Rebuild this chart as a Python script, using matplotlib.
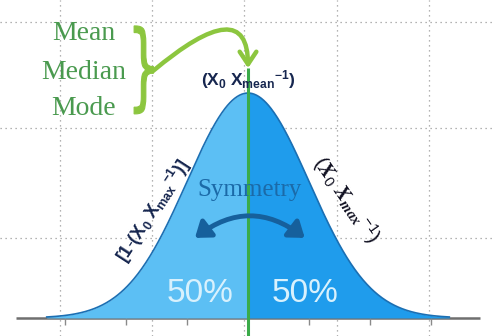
import matplotlib
matplotlib.use("Agg")
import matplotlib.pyplot as plt
import numpy as np
from matplotlib.patches import PathPatch
from matplotlib.textpath import TextPath
from matplotlib.font_manager import FontProperties
from matplotlib.transforms import Affine2D

# normal curve shown in the sketch (in sd units)
dist_mean = 0.0
dist_sd = 1.0
sigma_ticks = [-3, -2, -1, 0, 1, 2, 3]
tail_extent = 3.8

# dotted background grid
grid_x = [-3.08, -1.57, -0.07, 1.46, 2.97]
grid_y = [0.142, 0.337, 0.525]

stat_labels = ["Mean", "Median", "Mode"]
half_labels = ["50%", "50%"]
center_label = r"$\mathbf{(X_0\ X_{mean}{}^{-1})}$"
left_label = r"$\mathbf{[1\text{-}(X_0\ X_{max}{}^{-1})]}$"
right_label = r"$(X_0\ X_{max}{}^{-1})$"

LIGHT = "#5cbff4"
DARK = "#1f9cec"
EDGE = "#1b6fb3"
GREEN_TXT = "#4a9a4f"
LIME = "#8cc63f"
NAVY = "#16264f"

plt.rcParams["mathtext.fontset"] = "custom"
plt.rcParams["mathtext.bf"] = "Liberation Sans:bold"
plt.rcParams["mathtext.rm"] = "Liberation Sans"
plt.rcParams["mathtext.it"] = "Liberation Serif:italic:bold"


def pdf(x):
    z = (x - dist_mean) / dist_sd
    return np.exp(-0.5 * z ** 2) / (dist_sd * np.sqrt(2 * np.pi))


fig = plt.figure(figsize=(4.92, 3.36), dpi=100)
ax = fig.add_axes([0, 0, 1, 1])
ax.set_xlim(-4.066, 4.0)
ax.set_ylim(-0.032, 0.564)
ax.axis("off")

# grid
for gx in grid_x:
    ax.axvline(gx, color="#9a9a9a", lw=0.9, ls=(0, (1, 3)), zorder=0)
for gy in grid_y:
    ax.axhline(gy, color="#9a9a9a", lw=0.9, ls=(0, (1, 3)), zorder=0)

# baseline and ticks
ax.hlines(0, -tail_extent, tail_extent, color="#6f6f6f", lw=1.8, zorder=1)
ax.vlines(sigma_ticks, -0.012, 0, color="#8a8a8a", lw=1, zorder=1)

# the two halves
xs = np.linspace(-3.3, 3.3, 500)
ys = pdf(xs)
left = xs <= dist_mean
right = xs >= dist_mean
ax.fill_between(xs[left], 0, ys[left], color=LIGHT, lw=0, zorder=2)
ax.fill_between(xs[right], 0, ys[right], color=DARK, lw=0, zorder=2)
ax.plot(xs, ys, color=EDGE, lw=1.2, zorder=3)

# mean line
ax.vlines(dist_mean, -0.032, 0.443, color="#3bab4a", lw=2.2, zorder=4)

# Mean / Median / Mode
for lab, yy in zip(stat_labels, [0.505, 0.436, 0.372]):
    ax.text(-2.69, yy, lab, color=GREEN_TXT, fontsize=20,
            family="Liberation Serif", ha="center", va="center", zorder=5)

# curly brace, squeezed horizontally
bp = TextPath((0, 0), "}", size=1, prop=FontProperties(family="DejaVu Sans"))
v = bp.vertices
x0, x1 = v[:, 0].min(), v[:, 0].max()
y0, y1 = v[:, 1].min(), v[:, 1].max()
bx0, bx1, by0, by1 = -1.97, -1.55, 0.362, 0.518
tr = (Affine2D().translate(-x0, -y0)
      .scale((bx1 - bx0) / (x1 - x0), (by1 - by0) / (y1 - y0))
      .translate(bx0, by0) + ax.transData)
ax.add_patch(PathPatch(bp, transform=tr, color=LIME, lw=0.8, zorder=5))

# arrow from brace to the mean
ax.annotate("", xy=(0.0, 0.443), xytext=(-1.57, 0.437),
            arrowprops=dict(arrowstyle="->,head_length=0.9,head_width=0.6",
                            connectionstyle="angle3,angleA=40,angleB=90",
                            color=LIME, lw=3.2, shrinkA=0, shrinkB=0),
            zorder=6)

ax.text(0.0, 0.423, center_label, color=NAVY, fontsize=12.5,
        ha="center", va="center", zorder=7)

# slope labels
ax.text(-1.56, 0.19, left_label, color=NAVY, fontsize=13, rotation=57,
        ha="center", va="center", rotation_mode="anchor", zorder=7)
ax.text(1.6, 0.21, right_label, color="#111122", fontsize=15, rotation=-55,
        ha="center", va="center", rotation_mode="anchor", zorder=7)

# symmetry
ax.text(0.03, 0.227, "Symmetry", color="#1b6aa8", fontsize=18,
        family="Liberation Serif", ha="center", va="center", zorder=7)
ax.annotate("", xy=(0.93, 0.142), xytext=(-0.87, 0.142),
            arrowprops=dict(arrowstyle="<|-|>,head_length=0.55,head_width=0.4",
                            connectionstyle="arc3,rad=-0.38",
                            color="#16609c", lw=3.5, shrinkA=0, shrinkB=0,
                            mutation_scale=16),
            zorder=7)

# 50% labels
for lab, xx in zip(half_labels, [-0.79, 0.93]):
    ax.text(xx, 0.044, lab, color="#d8f1fd", fontsize=24,
            family="Liberation Sans", ha="center", va="center", zorder=7)

fig.savefig("out.png", dpi=100)
